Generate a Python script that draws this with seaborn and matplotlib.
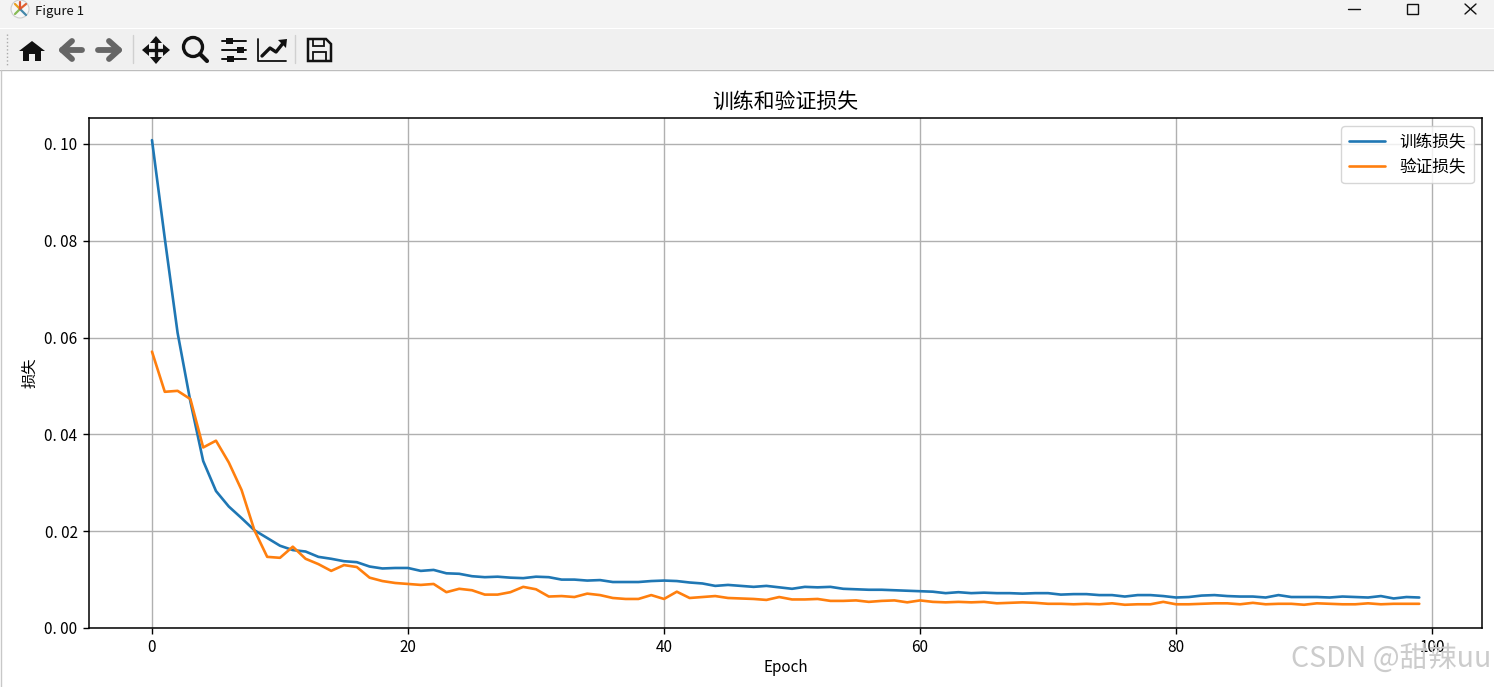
import matplotlib.pyplot as plt
from matplotlib.patches import Circle, Polygon, Rectangle
import seaborn as sns

epochs = list(range(100))
train_loss = [
    .1008, .0805, .0610, .0468, .0345, .0283, .0251, .0227, .0202, .0186,
    .0170, .0161, .0158, .0147, .0143, .0138, .0136, .0127, .0123, .0124,
    .0124, .0118, .0120, .0113, .0112, .0107, .0105, .0106, .0104, .0103,
    .0106, .0105, .0100, .0100, .0098, .0099, .0095, .0095, .0095, .0097,
    .0098, .0097, .0094, .0092, .0087, .0089, .0087, .0085, .0087, .0084,
    .0081, .0085, .0084, .0085, .0081, .0080, .0079, .0079, .0078, .0077,
    .0076, .0075, .0072, .0074, .0072, .0073, .0072, .0072, .0071, .0072,
    .0072, .0069, .0070, .0070, .0068, .0068, .0065, .0068, .0068, .0066,
    .0063, .0064, .0067, .0068, .0066, .0065, .0065, .0063, .0068, .0064,
    .0064, .0064, .0063, .0065, .0064, .0063, .0066, .0061, .0064, .0063,
]
val_loss = [
    .0571, .0488, .0490, .0473, .0373, .0387, .0342, .0285, .0202, .0147,
    .0145, .0168, .0143, .0132, .0118, .0130, .0126, .0104, .0097, .0093,
    .0091, .0089, .0091, .0074, .0081, .0078, .0069, .0069, .0074, .0085,
    .0080, .0065, .0066, .0064, .0071, .0068, .0062, .0060, .0060, .0068,
    .0060, .0075, .0062, .0064, .0066, .0062, .0061, .0060, .0058, .0064,
    .0059, .0059, .0060, .0056, .0056, .0057, .0054, .0056, .0057, .0053,
    .0057, .0054, .0053, .0054, .0053, .0054, .0051, .0052, .0053, .0052,
    .0050, .0050, .0049, .0050, .0049, .0051, .0048, .0049, .0049, .0054,
    .0049, .0049, .0050, .0051, .0051, .0049, .0052, .0049, .0050, .0050,
    .0048, .0051, .0050, .0049, .0049, .0051, .0049, .0050, .0050, .0050,
]
y_ticks = [0.00, 0.02, 0.04, 0.06, 0.08, 0.10]
y_tick_labels = ["0. 00", "0. 02", "0. 04", "0. 06", "0. 08", "0. 10"]
x_ticks = [0, 20, 40, 60, 80, 100]

sns.set_style("white")
plt.rcParams['font.family'] = ['Noto Sans CJK SC', 'DejaVu Sans']

W, H = 1494, 687
fig = plt.figure(figsize=(W / 100, H / 100), dpi=100)

# window frame behind the plot, in pixel coordinates
chrome = fig.add_axes([0, 0, 1, 1], zorder=-1)
chrome.set_xlim(0, W)
chrome.set_ylim(H, 0)
chrome.axis('off')
chrome.add_patch(Rectangle((0, 0), W, 28, color='#f3f3f3', lw=0))
chrome.add_patch(Rectangle((0, 29), W, 40, color='#f0f0f0', lw=0))
chrome.plot([0, W], [69.5, 69.5], color='#bdbdbd', lw=1)
chrome.plot([0.5, 0.5], [70, H], color='#c8c8c8', lw=1)
chrome.text(35, 11.5, "Figure 1", fontsize=9.5, va='center', color='#111111')

# app icon
chrome.add_patch(Circle((20, 9), 9, fc='#f7f7f7', ec='#cccccc', lw=0.8))
for dx, dy, c in [(-5, -5, '#e8a020'), (6, -5, '#e06030'), (-5, 5, '#88bb55'), (6, 6, '#4488aa'), (0, -7, '#dd5533')]:
    chrome.plot([20, 20 + dx], [9, 9 + dy], color=c, lw=1.6)

# toolbar icons
ink = '#111111'
chrome.add_patch(Polygon([(19, 51), (32, 41), (45, 51), (41, 51), (41, 61), (35, 61), (35, 54),
                          (29, 54), (29, 61), (23, 61), (23, 51)], fc=ink, ec='none'))
for x0, x1, tip in [(82, 62, 72), (98, 119, 109)]:
    chrome.plot([x0, x1], [50, 50], color='#666666', lw=4.2, solid_capstyle='round')
    chrome.plot([tip, x1, tip], [41, 50, 59], color='#666666', lw=4.2, solid_capstyle='round')
chrome.plot([146, 166], [50, 50], color=ink, lw=2.4)
chrome.plot([156, 156], [40, 60], color=ink, lw=2.4)
for pts in [[(142, 50), (149, 44), (149, 56)], [(170, 50), (163, 44), (163, 56)],
            [(156, 36), (150, 43), (162, 43)], [(156, 64), (150, 57), (162, 57)]]:
    chrome.add_patch(Polygon(pts, fc=ink, ec='none'))
chrome.add_patch(Circle((193, 47), 9.5, fc='none', ec=ink, lw=2.4))
chrome.plot([200, 207], [54, 61], color=ink, lw=3.0)
for y, bx in [(41, 229), (50, 240), (59, 230)]:
    chrome.plot([222, 246], [y, y], color=ink, lw=1.4)
    chrome.add_patch(Rectangle((bx - 3.5, y - 3), 7, 6, fc=ink, lw=0))
chrome.plot([258, 258, 286], [39, 61, 61], color=ink, lw=1.3)
chrome.plot([262, 270, 276, 284], [56, 48, 52, 42], color=ink, lw=2.4)
chrome.add_patch(Polygon([(278, 40), (287, 39), (286, 48)], fc=ink, ec='none'))
chrome.add_patch(Polygon([(308, 39), (326, 39), (331, 44), (331, 61), (308, 61)], fc='none', ec=ink, lw=1.8))
chrome.add_patch(Rectangle((313, 39), 11, 7, fc='none', ec=ink, lw=1.3))
chrome.add_patch(Rectangle((313, 52), 13, 9, fc='none', ec=ink, lw=1.3))
for x in [132.5, 294.5]:
    chrome.plot([x, x], [35, 63], color='#d0d0d0', lw=1)
chrome.plot([7, 7], [34, 65], color='#aaaaaa', lw=1, ls=':')

# window buttons
chrome.plot([1348, 1360], [9, 9], color=ink, lw=1)
chrome.add_patch(Rectangle((1406.5, 4), 11, 10, fc='none', ec=ink, lw=1))
chrome.plot([1465, 1476], [4, 14], color=ink, lw=1)
chrome.plot([1465, 1476], [14, 4], color=ink, lw=1)

ax = fig.add_axes([89 / W, (H - 628) / H, (1482 - 89) / W, (628 - 118) / H])
sns.lineplot(x=epochs, y=train_loss, label='训练损失', color='#1f77b4', linewidth=1.9, ax=ax)
sns.lineplot(x=epochs, y=val_loss, label='验证损失', color='#ff7f0e', linewidth=1.9, ax=ax)

ax.set_xlim(-4.92, 103.9)
ax.set_ylim(0, 0.10537)
ax.set_xticks(x_ticks)
ax.set_yticks(y_ticks)
ax.set_yticklabels(y_tick_labels)
ax.tick_params(axis='both', labelsize=11, length=4.2, width=1, color='black', labelcolor='black',
               bottom=True, left=True, pad=4)
ax.grid(True, color='#b0b0b0', linewidth=1.0)
for side in ax.spines.values():
    side.set_color('black')
    side.set_linewidth(1.1)
ax.set_title('训练和验证损失', fontsize=15, color='black', pad=7)
ax.set_xlabel('Epoch', fontsize=11, color='black', labelpad=2)
ax.set_ylabel('损失', fontsize=11, color='black', labelpad=4)
ax.legend(loc='upper right', fontsize=12, frameon=True, framealpha=0.8, edgecolor='#cccccc',
          facecolor='white', labelcolor='black', borderpad=0.45, labelspacing=0.45,
          handlelength=2.15, handletextpad=0.9, borderaxespad=0.5)

fig.text(1491 / W, (H - 659) / H, 'CSDN @甜辣uu', fontsize=20.5, color='#cccccc', ha='right',
         va='center', zorder=10)

fig.savefig('out.png', dpi=100)
